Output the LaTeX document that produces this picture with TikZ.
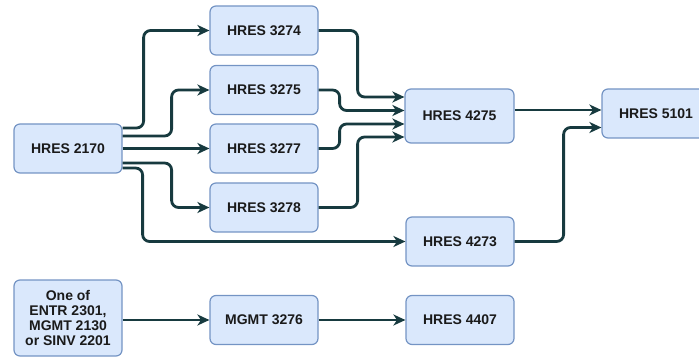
\documentclass[tikz,border=0pt]{standalone}
\usepackage{fontspec}
\setmainfont{Liberation Sans}
\usetikzlibrary{arrows.meta,calc}
\definecolor{boxfill}{HTML}{DAE8FC}
\definecolor{boxdraw}{HTML}{7494C4}
\definecolor{linecol}{HTML}{173A3F}
\definecolor{txtcol}{HTML}{1A1A1A}
\tikzset{
  course/.style={rectangle, rounded corners=6pt, draw=boxdraw, fill=boxfill,
    line width=1.2pt, minimum width=108pt, minimum height=49pt, inner sep=0pt,
    font=\fontsize{14}{15.3}\selectfont\bfseries, text=txtcol, align=center},
  conn/.style={draw=linecol, line width=2.8pt, rounded corners=7pt,
    -{Stealth[length=12pt,width=11pt,inset=3.5pt]}}
}
\begin{document}
\begin{tikzpicture}[x=1pt,y=-1pt]
\useasboundingbox (0,0) rectangle (699,358);
\begin{scope}
\clip (0,0) rectangle (699,358);
\node[course] (h2170) at (68,148.5) {HRES 2170};
\node[course] (h3274) at (264,30.5) {HRES 3274};
\node[course] (h3275) at (264,90) {HRES 3275};
\node[course] (h3277) at (264,148.5) {HRES 3277};
\node[course] (h3278) at (264,207.5) {HRES 3278};
\node[course, minimum width=109pt, minimum height=54pt] (h4275) at (459.5,116) {HRES 4275};
\node[course] (h5101) at (656,113.5) {HRES 5101};
\node[course] (h4273) at (460,241.5) {HRES 4273};
\node[course, minimum height=76pt] (oneof) at (68,318) {One of\\ENTR 2301,\\MGMT 2130\\or SINV 2201};
\node[course] (m3276) at (264,320) {MGMT 3276};
\node[course] (h4407) at (460,320) {HRES 4407};

\draw[conn] ([yshift=20.5pt]h2170.east) -- ++(21,0) |- (h3274.west);
\draw[conn] ([yshift=12.5pt]h2170.east) -- ++(49,0) |- (h3275.west);
\draw[conn] (h2170.east) -- (h3277.west);
\draw[conn] ([yshift=-14.5pt]h2170.east) -- ++(49,0) |- (h3278.west);
\draw[conn] ([yshift=-19.5pt]h2170.east) -- ++(20,0) |- (h4273.west);

\draw[conn] (h3274.east) -- ++(39,0) |- ([yshift=19pt]h4275.west);
\draw[conn] (h3275.east) -- ++(21,0) |- ([yshift=5.5pt]h4275.west);
\draw[conn] (h3277.east) -- ++(21,0) |- ([yshift=-8pt]h4275.west);
\draw[conn] (h3278.east) -- ++(39,0) |- ([yshift=-21pt]h4275.west);

\draw[conn] ([yshift=3.5pt]h5101.west -| h4275.east) -- ([yshift=3.5pt]h5101.west);
\draw[conn] (h4273.east) -- ++(49,0) |- ([yshift=-14pt]h5101.west);

\draw[conn] (oneof.east |- m3276.west) -- (m3276.west);
\draw[conn] (m3276.east) -- (h4407.west);
\end{scope}
\end{tikzpicture}
\end{document}
